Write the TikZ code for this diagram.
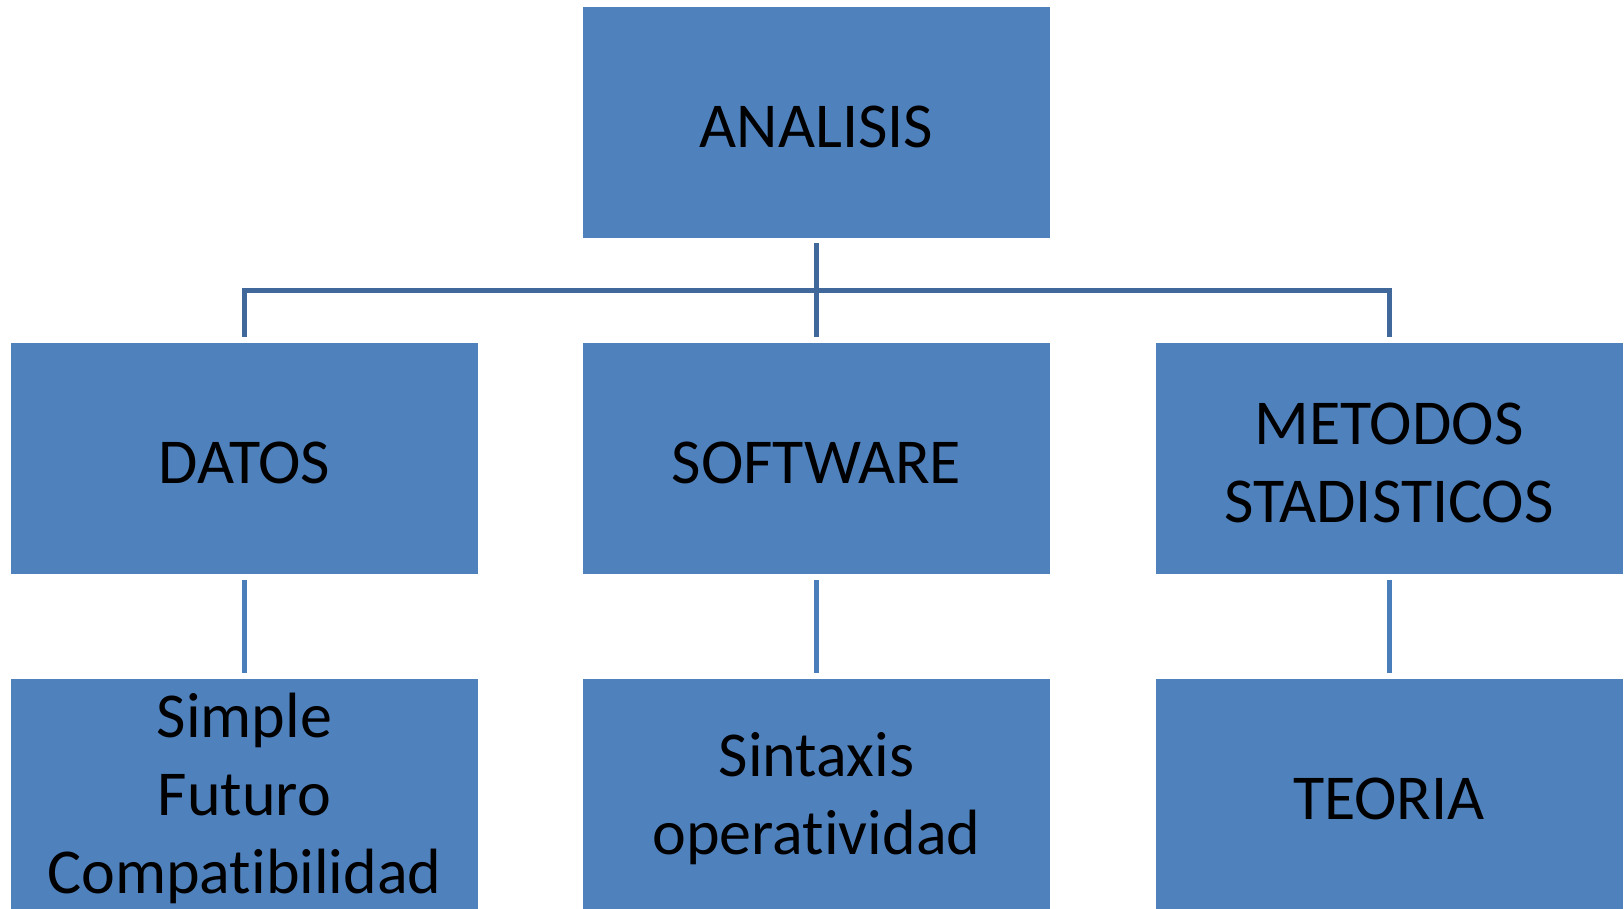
\documentclass[tikz,border=0pt]{standalone}
\usepackage{fontspec}
\setmainfont[Ligatures=NoCommon]{Carlito}
\usetikzlibrary{calc}
\definecolor{boxfill}{HTML}{4F81BD}
\definecolor{busline}{HTML}{41689B}
\definecolor{leafline}{HTML}{4A7EBB}
\tikzset{
  orgbox/.style={fill=boxfill, draw=none, minimum width=467pt, minimum height=231pt,
    inner sep=0pt},
  orgtext/.style={inner sep=0pt, align=center, text width=460pt, yshift=-4pt,
    font=\fontsize{64}{78}\selectfont},
  busconn/.style={draw=busline, line width=5pt},
  leafconn/.style={draw=leafline, line width=5pt, shorten <=6pt, shorten >=6pt}
}
\begin{document}
\begin{tikzpicture}[x=1pt, y=-1pt]
\useasboundingbox (0,0) rectangle (1624,908);
\clip (0,0) rectangle (1624,908);

% top level
\node[orgbox, label={[orgtext]center:ANALISIS}] (ana) at (816.5,122.5) {};

% second level
\node[orgbox, label={[orgtext]center:DATOS}]   (datos)   at (244.5,458.5) {};
\node[orgbox, label={[orgtext]center:SOFTWARE}] (soft)   at (816.5,458.5) {};
\node[orgbox, label={[orgtext]center:METODOS\\STADISTICOS}] (metodos) at (1389,458.5) {};

% third level
\node[orgbox, label={[orgtext]center:Simple\\Futuro\\Compatibilidad}] (simple) at (244.5,794.5) {};
\node[orgbox, label={[orgtext]center:Sintaxis\\operatividad}] (sint) at (816.5,794.5) {};
\node[orgbox, label={[orgtext]center:TEORIA}] (teoria) at (1389,794.5) {};

% bus from the top box to the second level
\coordinate (busl) at ($(datos.north)+(0,-52)$);
\draw[busconn] ($(datos.north)+(0,-6)$) -- (busl) -- ($(metodos.north)+(0,-52)$) -- ($(metodos.north)+(0,-6)$);
\draw[busconn] ($(ana.south)+(0,5)$) -- ($(soft.north)+(0,-6)$);

% second to third level
\draw[leafconn] (datos.south) -- (simple.north);
\draw[leafconn] (soft.south) -- (sint.north);
\draw[leafconn] (metodos.south) -- (teoria.north);
\end{tikzpicture}
\end{document}
